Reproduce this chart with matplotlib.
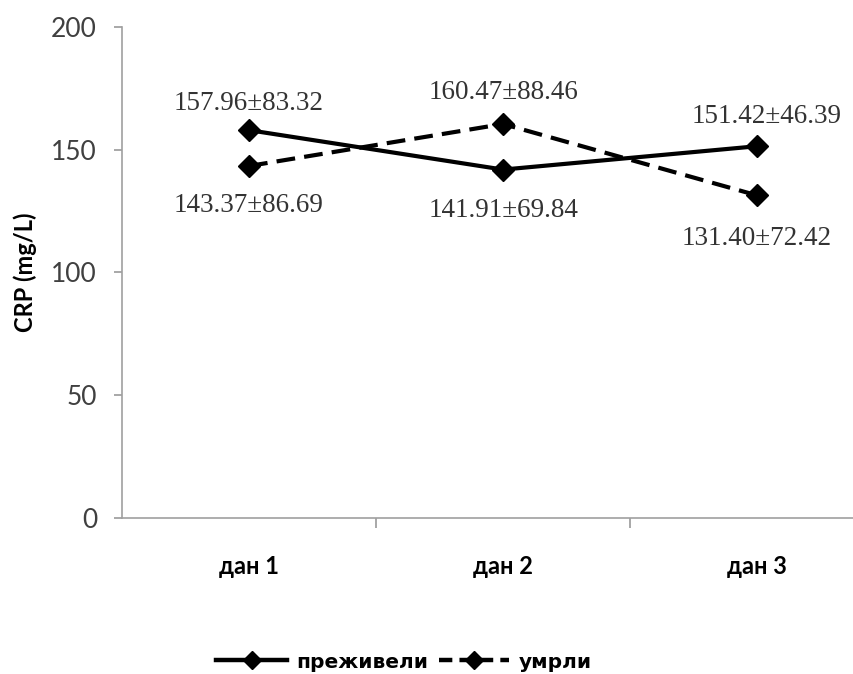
#!/usr/bin/env python3
"""CRP by day, survivors vs. deceased — line chart with mean±SD labels."""

import matplotlib.pyplot as plt
from matplotlib.lines import Line2D

days = ["дан 1", "дан 2", "дан 3"]
survived = [157.96, 141.91, 151.42]
survived_sd = [83.32, 69.84, 46.39]
died = [143.37, 160.47, 131.40]
died_sd = [86.69, 88.46, 72.42]
series_names = ["преживели", "умрли"]
y_ticks = [0, 50, 100, 150, 200]

SANS = "Lato"
SERIF = "Liberation Serif"
DASH = (0, (4.5, 2.2))


def main():
    fig = plt.figure(figsize=(8.54, 6.74), dpi=100)
    ax = fig.add_axes([0.1429, 0.2315, 0.8923, 0.7285])

    x = list(range(len(days)))
    ax.plot(x, survived, color="black", lw=3, marker="D", ms=11, zorder=3)
    ax.plot(x, died, color="black", lw=3, ls=DASH, marker="D", ms=11, zorder=3)

    ax.set_xlim(-0.5, 2.5)
    ax.set_ylim(0, 200)
    ax.set_yticks(y_ticks)
    ax.set_yticklabels([str(t) for t in y_ticks], fontsize=19, family=SANS, color="#404040")
    ax.set_xticks(x)
    ax.set_xticklabels(days, fontsize=17, family=SANS, fontweight="bold")
    ax.set_xticks([0.5, 1.5], minor=True)
    ax.tick_params(axis="x", which="major", length=0, pad=27)
    ax.tick_params(axis="x", which="minor", length=7, width=1.2, color="#999999")
    ax.tick_params(axis="y", length=6, width=1.2, color="#999999", pad=12)
    ax.set_ylabel("CRP (mg/L)", fontsize=17, family=SANS, fontweight="bold", labelpad=10)

    for s in ("top", "right"):
        ax.spines[s].set_visible(False)
    for s in ("left", "bottom"):
        ax.spines[s].set_color("#a0a0a0")
        ax.spines[s].set_linewidth(1.2)

    # mean±SD labels, offset in pixels from each marker
    lab_kw = dict(textcoords="offset pixels", fontsize=19.5, family=SERIF,
                  color="#333333", ha="center", va="center")
    offs_s = [(0, 27), (0, -41), (10, 29.5)]
    offs_d = [(0, -40), (0, 31.5), (0, -43)]
    for i in x:
        ax.annotate(f"{survived[i]:.2f}±{survived_sd[i]:.2f}", (i, survived[i]),
                    xytext=offs_s[i], **lab_kw)
        ax.annotate(f"{died[i]:.2f}±{died_sd[i]:.2f}", (i, died[i]),
                    xytext=offs_d[i], **lab_kw)

    handles = [
        Line2D([], [], color="black", lw=3.2, marker="D", ms=9),
        Line2D([], [], color="black", lw=3.2, ls=(0, (3, 1.6)), marker="D", ms=9),
    ]
    fig.legend(handles, series_names, loc="center", bbox_to_anchor=(404 / 854, 1 - 662 / 674),
               ncol=2, frameon=False, handlelength=3.5, handletextpad=0.45,
               columnspacing=0.55, borderpad=0,
               prop={"family": "DejaVu Sans", "weight": "bold", "size": 14.5})

    fig.savefig("out.png", dpi=100)
    plt.close(fig)


if __name__ == "__main__":
    main()
